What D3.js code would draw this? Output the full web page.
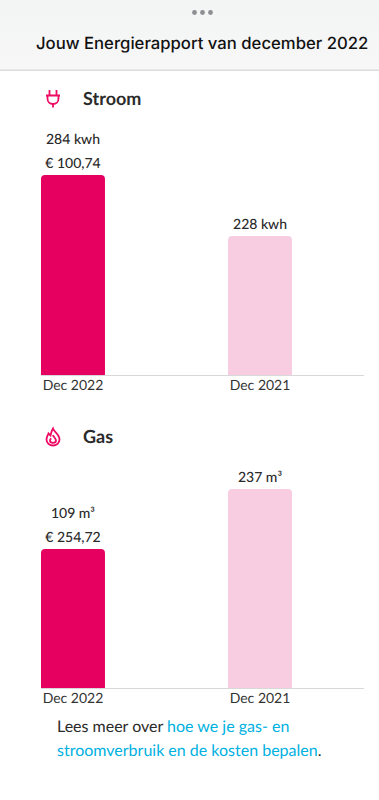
<!DOCTYPE html>
<html>
<head>
<meta charset="utf-8">
<script src="https://cdn.jsdelivr.net/npm/d3@7"></script>
<style>
    html, body { margin: 0; padding: 0; background: #fff; overflow: hidden; }
    text { font-family: Lato, sans-serif; fill: #2b2b2b; text-rendering: geometricPrecision; }
</style>
</head>
<body>
<div id="chart"></div>
<script>
const months = ["Dec 2022", "Dec 2021"];
/* bar height as share of the tallest bar */
const stroomShare = [100, 69.5];
const gasShare = [69.5, 99.5];
const stroomLabels = [["284 kwh", "€ 100,74"], ["228 kwh"]];
const gasLabels = [["109 m³", "€ 254,72"], ["237 m³"]];
const barColors = ["#e6005f", "#f8cde1"];

const pageTitle = "Jouw Energierapport van december 2022";

var svg = d3.select("#chart")
    .append("svg")
    .attr("width", 379)
    .attr("height", 800);

/* header */
var defs = svg.append("defs");
var grad = defs.append("linearGradient")
    .attr("id", "head")
    .attr("x1", 0).attr("x2", 0).attr("y1", 0).attr("y2", 1);
grad.append("stop").attr("offset", "0%").attr("stop-color", "#f3f4f4");
grad.append("stop").attr("offset", "100%").attr("stop-color", "#f7f7f7");

svg.append("rect")
    .attr("width", 379)
    .attr("height", 70)
    .attr("fill", "url(#head)");
svg.append("rect")
    .attr("y", 69.5)
    .attr("width", 379)
    .attr("height", 1.5)
    .attr("fill", "#dcdcdc");

svg.selectAll(".dot")
    .data([-8, 0, 8])
    .enter()
    .append("circle")
    .attr("class", "dot")
    .attr("cx", function(d) { return 202.5 + d; })
    .attr("cy", 12.5)
    .attr("r", 2.4)
    .attr("fill", "#8e8e93");

svg.append("text")
    .attr("x", 36)
    .attr("y", 49)
    .style("font-family", "Inter, sans-serif")
    .style("font-size", "16.7px")
    .style("font-weight", 500)
    .style("fill", "#111")
    .text(pageTitle);

/* rounded on top only */
function barPath(x, y, w, h, r) {
    var p = d3.path();
    p.moveTo(x, y + h);
    p.lineTo(x, y + r);
    p.arcTo(x, y, x + r, y, r);
    p.lineTo(x + w - r, y);
    p.arcTo(x + w, y, x + w, y + r, r);
    p.lineTo(x + w, y + h);
    p.closePath();
    return p.toString();
}

function drawSection(name, iconDraw, headY, baseY, shares, labels) {
    var x = d3.scaleBand()
        .range([41, 292])
        .domain(months)
        .paddingInner(0.658);
    var y = d3.scaleLinear()
        .domain([0, 100])
        .range([baseY, baseY - 200]);

    var g = svg.append("g");

    iconDraw(g.append("g")
        .attr("transform", "translate(53," + (headY - 6) + ")")
        .attr("fill", "none")
        .attr("stroke", "#ee0a63")
        .attr("stroke-width", 1.8));

    g.append("text")
        .attr("x", 83)
        .attr("y", headY)
        .style("font-size", "18px")
        .style("font-weight", 700)
        .text(name);

    months.forEach(function(m, i) {
        g.append("path")
            .attr("d", barPath(x(m), y(shares[i]), x.bandwidth(), baseY - y(shares[i]), 4))
            .attr("fill", barColors[i]);

        /* last label sits right above the bar, the others stack upward */
        labels[i].slice().reverse().forEach(function(t, k) {
            g.append("text")
                .attr("x", x(m) + x.bandwidth() / 2)
                .attr("y", y(shares[i]) - 7 - k * 24)
                .attr("text-anchor", "middle")
                .style("font-size", "14px")
                .style("font-weight", 500)
                .text(t);
        });
    });

    var axis = g.append("g")
        .attr("transform", "translate(0," + baseY + ")")
        .call(d3.axisBottom(x).tickSize(0).tickPadding(5));
    axis.select(".domain").remove();
    axis.selectAll(".tick text")
        .style("font-family", "Lato, sans-serif")
        .style("font-size", "14px")
        .style("fill", "#333");

    g.append("line")
        .attr("x1", 41)
        .attr("x2", 364)
        .attr("y1", baseY + 0.5)
        .attr("y2", baseY + 0.5)
        .attr("stroke", "#d8d8d8")
        .attr("stroke-width", 1.2);
}

function plugIcon(g) {
    g.append("path").attr("d", "M-3.5,-9V-3.5M3.5,-9V-3.5M-7,-3.5H7M0,5V8.5");
    g.append("path").attr("d", "M-5.5,-3.5V-0.5C-5.5,3 -3,5 0,5C3,5 5.5,3 5.5,-0.5V-3.5");
}

function flameIcon(g) {
    g.append("path").attr("d", "M0,-8.5C1,-5 6.5,-3 6.5,2.5C6.5,6 3.5,8.5 0,8.5C-3.5,8.5 -6.5,6 -6.5,2.5C-6.5,-0.5 -5,-2 -4.5,-3.5C-3.5,-2.5 -3,-2 -2.5,-1.5C-2,-3.5 -1.5,-6 0,-8.5Z");
    g.append("path").attr("d", "M0,-2C0.5,0 3,1.5 3,3.5C3,5 1.5,5.8 0,5.8C-1.5,5.8 -3,5 -3,3.5C-3,2.5 -2.5,2 -2,1.2");
}

drawSection("Stroom", plugIcon, 105, 375, stroomShare, stroomLabels);
drawSection("Gas", flameIcon, 443, 688, gasShare, gasLabels);

/* footer text with link */
var line1 = svg.append("text")
    .attr("x", 57)
    .attr("y", 732)
    .style("font-size", "16px");
line1.append("tspan").text("Lees meer over ");
line1.append("tspan").style("fill", "#00b1e1").text("hoe we je gas- en");

var line2 = svg.append("text")
    .attr("x", 57)
    .attr("y", 756)
    .style("font-size", "16px");
line2.append("tspan").style("fill", "#00b1e1").text("stroomverbruik en de kosten bepalen");
line2.append("tspan").text(".");
</script>
</body>
</html>
